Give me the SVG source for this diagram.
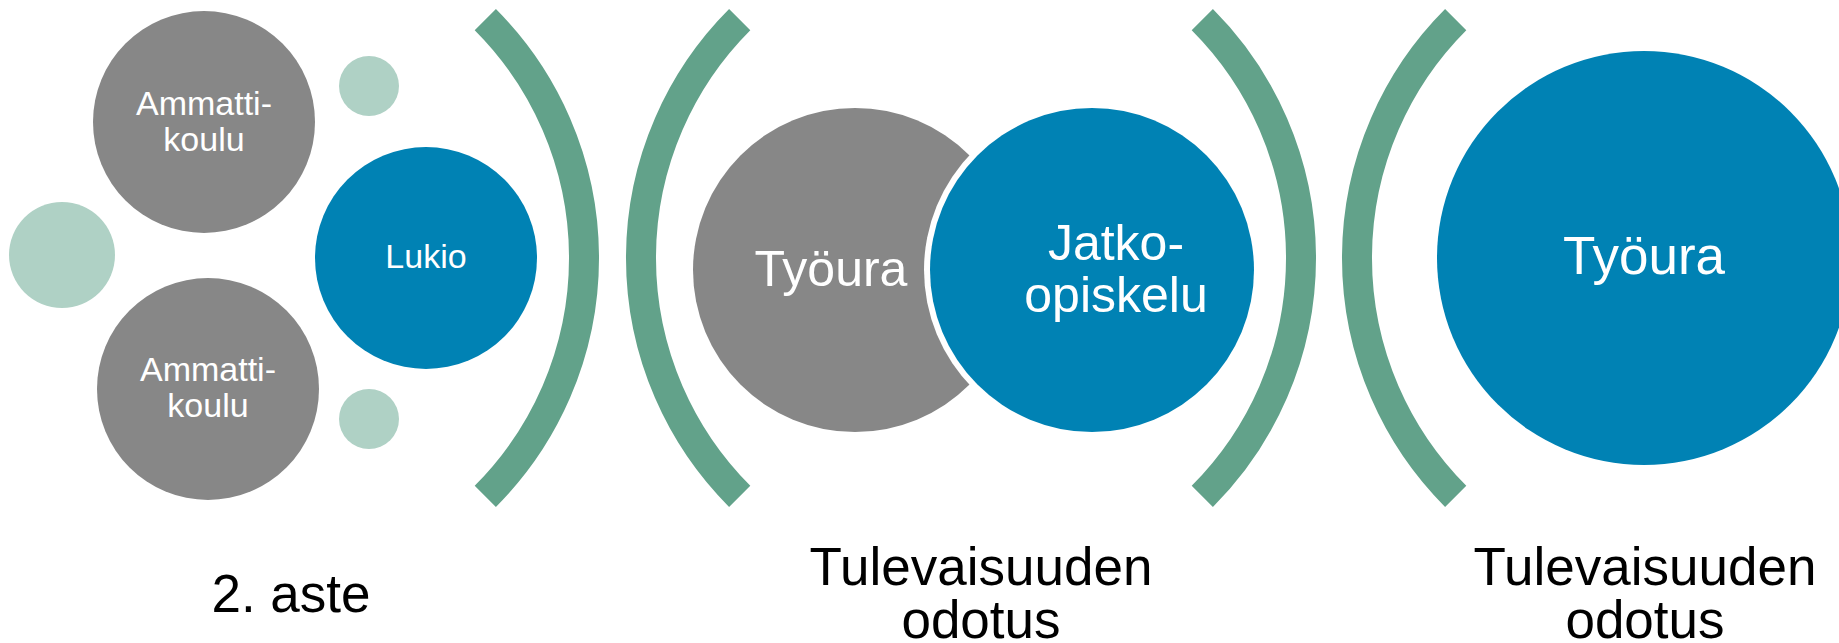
<svg xmlns="http://www.w3.org/2000/svg" width="1839" height="643" viewBox="0 0 1839 643">
  <style>
    .gray { fill: #878787; }
    .blue { fill: #0082B4; }
    .pale { fill: #AFD1C5; }
    .arc { fill: none; stroke: #62A28A; stroke-width: 30; stroke-linecap: butt; }
    .wt { fill: #FFFFFF; font-family: "Liberation Sans", Arial, sans-serif; text-anchor: middle; }
    .bt { fill: #000000; font-family: "Liberation Sans", Arial, sans-serif; text-anchor: middle; font-size: 53px; }
  </style>
  <rect x="0" y="0" width="1839" height="643" fill="#FFFFFF"/>

  <g id="dividers">
    <path class="arc" d="M485.3,19.7 A337,337 0 0 1 485.3,496.3"/>
    <path class="arc" d="M739.7,19.7 A337,337 0 0 0 739.7,496.3"/>
    <path class="arc" d="M1202.3,19.7 A337,337 0 0 1 1202.3,496.3"/>
    <path class="arc" d="M1455.7,19.7 A337,337 0 0 0 1455.7,496.3"/>
  </g>

  <g id="dot-top"><circle class="pale" cx="369" cy="86" r="30"/></g>
  <g id="dot-left"><circle class="pale" cx="62" cy="255" r="53"/></g>
  <g id="dot-bottom"><circle class="pale" cx="369" cy="419" r="30"/></g>

  <g id="ammattikoulu-1">
    <circle class="gray" cx="204" cy="122" r="111"/>
    <text class="wt" font-size="34" x="204" y="115">Ammatti-</text>
    <text class="wt" font-size="34" x="204" y="151">koulu</text>
  </g>
  <g id="ammattikoulu-2">
    <circle class="gray" cx="208" cy="389" r="111"/>
    <text class="wt" font-size="34" x="208" y="381">Ammatti-</text>
    <text class="wt" font-size="34" x="208" y="417">koulu</text>
  </g>
  <g id="lukio">
    <circle class="blue" cx="426" cy="258" r="111"/>
    <text class="wt" font-size="34" x="426" y="268">Lukio</text>
  </g>

  <g id="tyoura-1">
    <circle class="gray" cx="855" cy="270" r="162"/>
    <text class="wt" font-size="50" x="831" y="286">Työura</text>
  </g>
  <g id="jatko-opiskelu">
    <circle fill="#FFFFFF" cx="1092" cy="270" r="168"/>
    <circle class="blue" cx="1092" cy="270" r="162"/>
    <text class="wt" font-size="50" x="1116" y="260">Jatko-</text>
    <text class="wt" font-size="50" x="1116" y="312">opiskelu</text>
  </g>

  <g id="tyoura-2">
    <circle class="blue" cx="1644" cy="258" r="207"/>
    <text class="wt" font-size="53" x="1644" y="274">Työura</text>
  </g>

  <g id="label-aste">
    <text class="bt" x="291" y="612">2. aste</text>
  </g>
  <g id="label-odotus-1">
    <text class="bt" x="981" y="585">Tulevaisuuden</text>
    <text class="bt" x="981" y="638">odotus</text>
  </g>
  <g id="label-odotus-2">
    <text class="bt" x="1645" y="585">Tulevaisuuden</text>
    <text class="bt" x="1645" y="638">odotus</text>
  </g>
</svg>
